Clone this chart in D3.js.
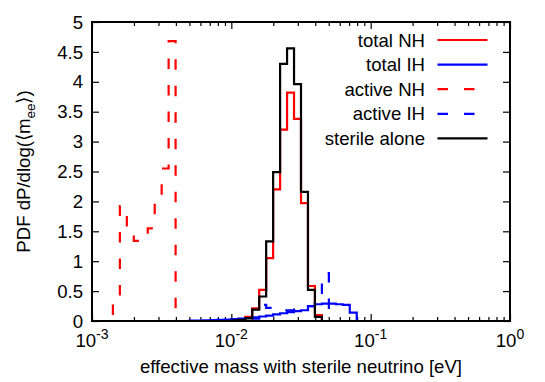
<!DOCTYPE html>
<html><head><meta charset="utf-8">
<script src="https://cdn.jsdelivr.net/npm/d3@7"></script>
<style>
body{margin:0;background:#fff}
text{font-family:"Liberation Sans",Arial,Helvetica,sans-serif;fill:#000}
</style>
</head><body>
<svg id="chart" width="545" height="382"></svg>
<script>
// log10 of bin edges [eV]
const binEdges = [-2.90,-2.85,-2.80,-2.75,-2.70,-2.65,-2.60,-2.55,-2.50,-2.45,
                  -2.40,-2.35,-2.30,-2.25,-2.20,-2.15,-2.10,-2.05,-2.00,-1.95,
                  -1.90,-1.85,-1.80,-1.75,-1.70,-1.65,-1.60,-1.55,-1.50,-1.45,
                  -1.40,-1.35,-1.30,-1.25,-1.20,-1.15,-1.10,-1.05,-1.00];
// PDF values per bin
const totalNH  = [0,0,0,0,0,0,0,0,0,0,
                  0,0,0,0,0,0,0,0,0.01,0.03,
                  0.07,0.21,0.52,1.05,2.20,3.20,3.82,3.38,1.97,0.585,
                  0.10,0,0,0,0,0,0,0];
const totalIH  = [0,0,0,0,0,0,0,0,0,0,
                  0,0,0.005,0.008,0.012,0.016,0.02,0.025,0.032,0.04,
                  0.05,0.06,0.075,0.09,0.11,0.13,0.15,0.165,0.18,0.25,
                  0.28,0.29,0.29,0.28,0.27,0.14,0,0];
const activeNH = [0,0.28,1.92,1.48,1.34,1.42,1.55,2.00,2.55,4.68,
                  0,0,0,0,0,0,0,0,0,0,
                  0,0,0,0,0,0,0,0,0,0,
                  0,0,0,0,0,0,0,0];
const activeIH = [0,0,0,0,0,0,0,0,0,0,
                  0,0,0,0,0,0,0,0,0,0,
                  0,0.04,0.27,0.22,0.19,0.18,0.18,0.19,0.21,0.25,
                  0.30,0.80,0,0,0,0,0,0];
const sterile  = [0,0,0,0,0,0,0,0,0,0,
                  0,0,0,0,0,0,0,0,0.01,0.02,
                  0.045,0.19,0.41,1.33,2.49,4.30,4.56,3.96,2.16,0.52,
                  0.07,0,0,0,0,0,0,0];

const seriesNames = ["total NH","total IH","active NH","active IH","sterile alone"];
const yTickValues = [0,0.5,1,1.5,2,2.5,3,3.5,4,4.5,5];
const yTickLabels = ["0","0.5","1","1.5","2","2.5","3","3.5","4","4.5","5"];
const xTickValues = [1e-3,1e-2,1e-1,1];
const xTickExps   = ["-3","-2","-1","0"];

const series = [
  {name:seriesNames[0], data:totalNH,  color:"#ff0000", dash:null, offset:0},
  {name:seriesNames[1], data:totalIH,  color:"#0000ff", dash:null, offset:0},
  {name:seriesNames[2], data:activeNH, color:"#ff0000", dash:"10.5,16", offset:20.5},
  {name:seriesNames[3], data:activeIH, color:"#0000ff", dash:"10.5,16", offset:25},
  {name:seriesNames[4], data:sterile,  color:"#000000", dash:null, offset:0}
];

const svg = d3.select("#chart");
const L=92, R=510, T=22, B=321;
const x = d3.scaleLog().domain([1e-3,1]).range([L,R]);
const y = d3.scaleLinear().domain([0,5]).range([B,T]);
const FS = 18.6;

// minor ticks x
const minorX = [];
for (let d=-3; d<0; d++) for (let k=2;k<10;k++) minorX.push(k*Math.pow(10,d));

const axG = svg.append("g");
function styleAxis(g){ g.select(".domain").remove(); g.selectAll("line").attr("stroke","#000").attr("stroke-width",1.2); g.selectAll("text").remove(); }
axG.append("g").attr("transform",`translate(0,${B})`).call(d3.axisBottom(x).tickValues(xTickValues).tickSize(-7)).call(styleAxis);
axG.append("g").attr("transform",`translate(0,${B})`).call(d3.axisBottom(x).tickValues(minorX).tickSize(-4)).call(styleAxis);
axG.append("g").attr("transform",`translate(0,${T})`).call(d3.axisTop(x).tickValues(xTickValues).tickSize(-7)).call(styleAxis);
axG.append("g").attr("transform",`translate(0,${T})`).call(d3.axisTop(x).tickValues(minorX).tickSize(-4)).call(styleAxis);
axG.append("g").attr("transform",`translate(${L},0)`).call(d3.axisLeft(y).tickValues(yTickValues).tickSize(-7)).call(styleAxis);
axG.append("g").attr("transform",`translate(${R},0)`).call(d3.axisRight(y).tickValues(yTickValues).tickSize(-7)).call(styleAxis);

// y tick labels
svg.append("g").selectAll("text").data(yTickValues).join("text")
  .attr("x",L-9).attr("y",d=>y(d)).attr("dy","0.36em").attr("text-anchor","end")
  .attr("font-size",FS).text((d,i)=>yTickLabels[i]);

// x tick labels
const xl = svg.append("g").selectAll("text").data(xTickValues).join("text")
  .attr("x",d=>x(d)).attr("y",347).attr("text-anchor","middle").attr("font-size",FS);
xl.append("tspan").text("10");
xl.append("tspan").attr("dy",-8).attr("font-size",14).text((d,i)=>xTickExps[i]);

// axis titles
svg.append("text").attr("x",(L+R)/2).attr("y",373).attr("text-anchor","middle")
  .attr("font-size",FS).text("effective mass with sterile neutrino [eV]");
const yt = svg.append("text").attr("transform",`translate(30,${(T+B)/2}) rotate(-90)`)
  .attr("text-anchor","middle").attr("font-size",FS);
yt.append("tspan").text("PDF dP/dlog(\u27E8m");
yt.append("tspan").attr("dy",5).attr("font-size",13.5).text("ee");
yt.append("tspan").attr("dy",-5).text("\u27E9)");

// histogram paths
const line = d3.line().x(p=>x(Math.pow(10,p[0]))).y(p=>y(p[1]));
function stepPoints(vals){
  let first=-1,last=-1;
  vals.forEach((v,i)=>{ if(v>0){ if(first<0) first=i; last=i; }});
  const pts=[[binEdges[first],0]];
  for(let i=first;i<=last;i++){ pts.push([binEdges[i],vals[i]]); pts.push([binEdges[i+1],vals[i]]); }
  pts.push([binEdges[last+1],0]);
  return pts;
}
const plotG = svg.append("g");
series.forEach(s=>{
  plotG.append("path").attr("d",line(stepPoints(s.data)))
    .attr("fill","none").attr("stroke",s.color).attr("stroke-width",2.2)
    .attr("stroke-dasharray",s.dash).attr("stroke-dashoffset",s.offset)
    .attr("stroke-linejoin","miter");
});

// border
svg.append("rect").attr("x",L).attr("y",T).attr("width",R-L).attr("height",B-T)
  .attr("fill","none").attr("stroke","#000").attr("stroke-width",2);

// legend
const lg = svg.append("g");
series.forEach((s,i)=>{
  const ly = 40 + i*24.6;
  lg.append("text").attr("x",425).attr("y",ly).attr("dy","0.36em").attr("text-anchor","end")
    .attr("font-size",FS).text(s.name);
  lg.append("line").attr("x1",437.5).attr("x2",487.5).attr("y1",ly).attr("y2",ly)
    .attr("stroke",s.color).attr("stroke-width",2.2).attr("stroke-dasharray",s.dash);
});
</script>
</body></html>
